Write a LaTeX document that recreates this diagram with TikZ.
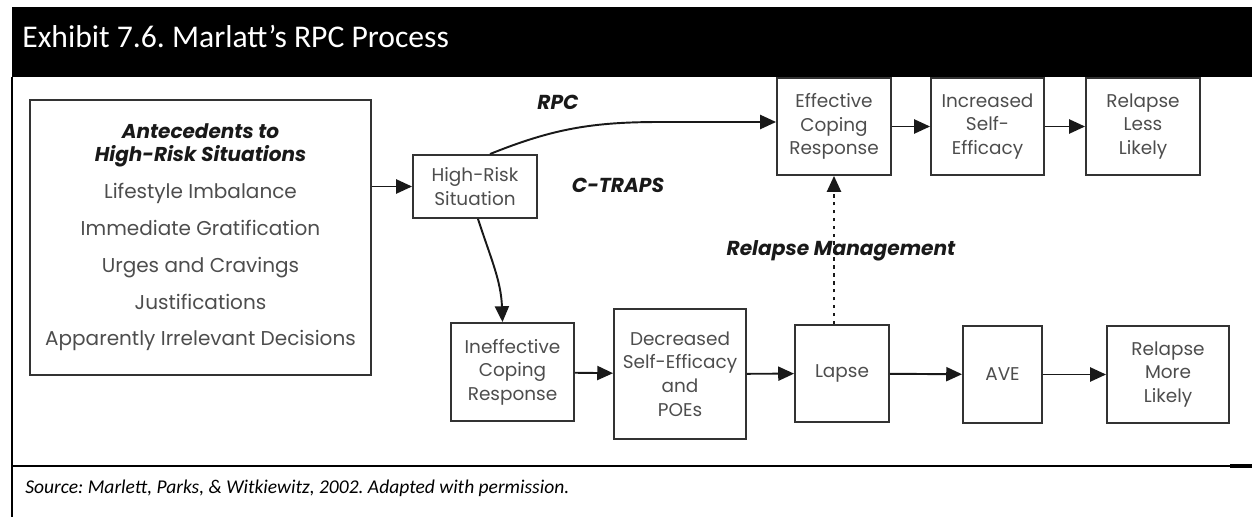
\documentclass[tikz,border=0pt]{standalone}
\usepackage{fontspec}
\setmainfont{Carlito}
\newfontfamily\popfont{Poppins}
\usetikzlibrary{arrows.meta,positioning}
\definecolor{boxtext}{HTML}{4D4D4D}
\definecolor{boxline}{HTML}{333333}
\newcommand\headfont{\popfont\bfseries\itshape\color{black!90}}
\frenchspacing
\begin{document}
\begin{tikzpicture}[x=0.02cm,y=-0.02cm,
    stage/.style={draw=boxline, line width=1.1pt, text=boxtext, align=center, inner sep=1pt,
      font=\popfont\fontsize{10.5}{13.4}\selectfont},
    pathlabel/.style={font=\popfont\bfseries\itshape\fontsize{11.5}{13}\selectfont, text=black!90},
    flow/.style={draw=black!90, line width=1.1pt, -{Triangle[length=9pt,width=8pt]}},
    mgmt/.style={flow, dash pattern=on 2pt off 2.5pt}]

    \useasboundingbox (0,0) rectangle (1252,517);
    \fill[black] (12,7) rectangle (1252,77);
    \node[anchor=base west, text=white, font=\fontsize{18}{21}\selectfont, inner sep=0pt] (title) at (22,48) {Exhibit 7.6. Marlatt’s RPC Process};
    \draw[line width=1.2pt] (12,77) -- (12,517);
    \draw[line width=1.2pt] (12,466) -- (1252,466);
    \draw[line width=2.4pt] (1230,466) -- (1252,466);
    \node[anchor=base west, font=\itshape\fontsize{11.1}{13}\selectfont, inner sep=0pt] (source) at (25,493) {Source: Marlett, Parks, \& Witkiewitz, 2002. Adapted with permission.};

    % antecedents and the high-risk situation
    \node[stage, minimum width=6.82cm, minimum height=5.5cm, font=\popfont\fontsize{11.4}{21}\selectfont] (ante) at (200.5,237.5)
      {\headfont Antecedents to\\[-8pt] \headfont High-Risk Situations\\
       Lifestyle Imbalance\\ Immediate Gratification\\ Urges and Cravings\\ Justifications\\ Apparently Irrelevant Decisions};
    \node[stage, minimum width=2.48cm, minimum height=1.26cm] (hrs) at (475,186.5) {High-Risk\\Situation};

    % RPC row
    \node[stage, minimum width=2.28cm, minimum height=1.94cm] (ecr) at (834,126.5) {Effective\\Coping\\Response};
    \node[stage, minimum width=2.26cm, minimum height=1.94cm] (ise) at (987.5,126.5) {Increased\\Self-\\Efficacy};
    \node[stage, minimum width=2.28cm, minimum height=1.94cm] (rll) at (1143,126.5) {Relapse\\Less\\Likely};

    % C-TRAPS row
    \node[stage, minimum width=2.46cm, minimum height=1.96cm] (icr) at (512.5,372) {Ineffective\\Coping\\Response};
    \node[stage, minimum width=2.64cm, minimum height=2.6cm] (dse) at (680,374) {Decreased\\Self-Efficacy\\and\\POEs};
    \node[stage, minimum width=1.88cm, minimum height=1.94cm] (lapse) at (842,373.5) {Lapse};
    \node[stage, minimum width=1.58cm, minimum height=1.94cm] (ave) at (1002.5,374.5) {AVE};
    \node[stage, minimum width=2.44cm, minimum height=1.94cm] (rml) at (1168,374.5) {Relapse\\More\\Likely};

    \node[pathlabel] (rpc) at (558,102) {RPC};
    \node[pathlabel] (ctraps) at (618,185) {C-TRAPS};
    \node[pathlabel] (relmgmt) at (841,251) {Relapse Management};

    \coordinate (rpcbend) at (660,122);
    \draw[flow] (hrs.west -| ante.east) -- (hrs.west);
    \draw[flow] ([xshift=0.3cm]hrs.north) to[out=22,in=180] (rpcbend) -- (ecr.west |- rpcbend);
    \draw[flow] ([xshift=0.06cm]hrs.south) to[out=-72,in=92] ([xshift=-0.2cm]icr.north);
    \draw[flow] (ecr) -- (ise);
    \draw[flow] (ise) -- (rll);
    \draw[flow] (icr) -- (dse);
    \draw[flow] (dse) -- (lapse);
    \draw[flow] (lapse) -- (ave);
    \draw[flow] (ave) -- (rml);
    \draw[mgmt] (ecr.south |- lapse.north) -- (ecr.south);
\end{tikzpicture}
\end{document}
